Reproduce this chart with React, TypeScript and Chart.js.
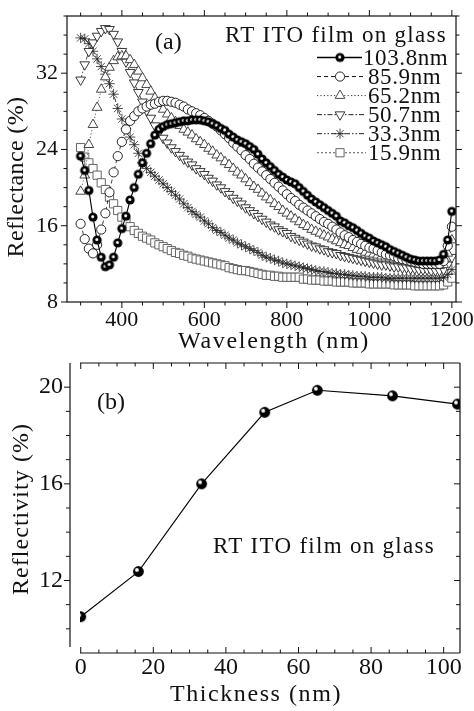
import React, { useEffect, useRef } from 'react';
import { Chart, registerables } from 'chart.js';

Chart.register(...registerables);

const SERIF = "'Liberation Serif', 'DejaVu Serif', serif";

// ---------- Panel (a) data ----------
const wavelengths = [
  300, 310, 320, 330, 340, 350, 360, 370, 380, 390,
  400, 410, 420, 430, 440, 450, 460, 470, 480, 490,
  500, 510, 520, 530, 540, 550, 560, 570, 580, 590,
  600, 610, 620, 630, 640, 650, 660, 670, 680, 690,
  700, 710, 720, 730, 740, 750, 760, 770, 780, 790,
  800, 810, 820, 830, 840, 850, 860, 870, 880, 890,
  900, 910, 920, 930, 940, 950, 960, 970, 980, 990,
  1000, 1010, 1020, 1030, 1040, 1050, 1060, 1070, 1080, 1090,
  1100, 1110, 1120, 1130, 1140, 1150, 1160, 1170, 1180, 1190,
  1200,
];

const seriesLabels = ['103.8nm', '85.9nm', '65.2nm', '50.7nm', '33.3nm', '15.9nm'];

const r103_8 = [
  23.3, 21.8, 19.7, 16.9, 14.5, 12.7, 11.7, 11.9, 12.7, 14.2,
  15.7, 17.0, 18.7, 20.0, 21.4, 22.6, 23.6, 24.6, 25.5, 26.1,
  26.4, 26.6, 26.7, 26.8, 26.9, 27.0, 27.0, 27.1, 27.1, 27.1,
  27.0, 26.9, 26.7, 26.5, 26.2, 26.0, 25.6, 25.3, 25.0, 24.8,
  24.6, 24.3, 24.0, 23.5, 23.0, 22.6, 22.2, 21.8, 21.4, 21.1,
  20.8, 20.6, 20.4, 20.0, 19.6, 19.2, 18.8, 18.5, 18.2, 17.9,
  17.6, 17.3, 17.0, 16.5, 16.3, 16.0, 15.8, 15.5, 15.2, 14.9,
  14.7, 14.4, 14.2, 14.0, 13.8, 13.5, 13.3, 13.1, 12.9, 12.7,
  12.5, 12.4, 12.3, 12.3, 12.3, 12.3, 12.3, 12.4, 13.0, 14.5,
  17.5,
];

const r85_9 = [
  16.2, 14.6, 13.6, 13.1, 14.0, 15.6, 17.3, 19.5, 21.6, 23.3,
  24.8, 26.1, 27.0, 27.5, 28.0, 28.3, 28.5, 28.7, 28.8, 29.0,
  29.1, 29.1, 29.0, 28.9, 28.7, 28.5, 28.2, 28.0, 27.8, 27.6,
  27.3, 27.0, 26.7, 26.4, 26.0, 25.6, 25.2, 24.7, 24.3, 23.9,
  23.4, 23.0, 22.5, 22.1, 21.7, 21.3, 20.9, 20.5, 20.1, 19.7,
  19.3, 18.9, 18.6, 18.2, 17.9, 17.6, 17.3, 17.0, 16.7, 16.4,
  16.2, 15.9, 15.6, 15.3, 15.0, 14.8, 14.5, 14.3, 14.1, 13.9,
  13.7, 13.6, 13.4, 13.2, 13.0, 12.9, 12.8, 12.6, 12.5, 12.4,
  12.3, 12.2, 12.1, 12.0, 12.0, 12.0, 12.0, 12.0, 12.3, 13.9,
  15.9,
];

const r65_2 = [
  19.6, 21.3, 24.5, 26.6, 28.4, 30.3, 31.6, 32.6, 33.3, 33.7,
  33.8, 33.8, 33.4, 32.9, 32.2, 31.5, 30.8, 30.1, 29.4, 28.8,
  28.2, 27.7, 27.3, 26.9, 26.5, 26.1, 25.8, 25.5, 25.1, 24.8,
  24.5, 24.1, 23.8, 23.4, 23.1, 22.7, 22.4, 22.0, 21.6, 21.3,
  20.9, 20.5, 20.1, 19.8, 19.4, 19.0, 18.7, 18.3, 18.0, 17.6,
  17.3, 17.0, 16.7, 16.4, 16.1, 15.9, 15.6, 15.4, 15.2, 15.0,
  14.8, 14.6, 14.4, 14.2, 14.0, 13.9, 13.7, 13.5, 13.4, 13.2,
  13.1, 13.0, 12.9, 12.8, 12.7, 12.6, 12.5, 12.4, 12.3, 12.2,
  12.1, 12.0, 11.9, 11.9, 11.8, 11.8, 11.8, 11.8, 11.9, 13.1,
  14.5,
];

const r50_7 = [
  31.3, 32.9, 34.3, 35.2, 35.9, 36.4, 36.7, 36.6, 36.1, 35.3,
  34.3, 33.2, 32.1, 31.0, 30.0, 29.0, 28.1, 27.3, 26.5, 25.8,
  25.2, 24.7, 24.2, 23.8, 23.4, 23.0, 22.7, 22.4, 22.0, 21.7,
  21.4, 21.0, 20.7, 20.3, 20.0, 19.6, 19.3, 18.9, 18.6, 18.3,
  17.9, 17.6, 17.3, 17.0, 16.7, 16.4, 16.1, 15.9, 15.6, 15.4,
  15.2, 14.9, 14.7, 14.5, 14.3, 14.1, 13.9, 13.8, 13.6, 13.5,
  13.3, 13.2, 13.1, 12.9, 12.8, 12.7, 12.6, 12.5, 12.4, 12.3,
  12.2, 12.1, 12.0, 11.9, 11.9, 11.8, 11.7, 11.7, 11.6, 11.6,
  11.5, 11.5, 11.4, 11.4, 11.4, 11.3, 11.3, 11.3, 11.4, 11.9,
  12.7,
];

const r33_3 = [
  35.7, 35.6, 35.1, 34.3, 33.5, 32.7, 31.9, 30.9, 29.8, 28.3,
  27.2, 26.2, 25.3, 24.5, 23.6, 22.6, 22.0, 21.6, 21.2, 20.8,
  20.4, 20.0, 19.6, 19.2, 18.8, 18.3, 17.9, 17.5, 17.2, 16.9,
  16.5, 16.2, 15.8, 15.5, 15.3, 15.0, 14.7, 14.5, 14.2, 14.0,
  13.8, 13.6, 13.4, 13.2, 12.9, 12.7, 12.6, 12.4, 12.3, 12.1,
  12.0, 11.9, 11.8, 11.7, 11.6, 11.5, 11.4, 11.3, 11.2, 11.2,
  11.1, 11.0, 11.0, 10.9, 10.9, 10.8, 10.8, 10.7, 10.7, 10.7,
  10.6, 10.6, 10.6, 10.6, 10.5, 10.5, 10.5, 10.5, 10.5, 10.5,
  10.5, 10.5, 10.5, 10.5, 10.5, 10.5, 10.5, 10.5, 10.6, 10.9,
  11.4,
];

const r15_9 = [
  24.2, 23.2, 22.6, 22.0, 21.3, 20.5, 19.8, 19.0, 18.3, 17.6,
  16.9, 16.4, 15.9, 15.5, 15.2, 14.9, 14.7, 14.5, 14.2, 14.0,
  13.8, 13.6, 13.4, 13.2, 13.1, 12.9, 12.8, 12.6, 12.5, 12.4,
  12.3, 12.2, 12.1, 12.0, 11.9, 11.8, 11.6, 11.5, 11.4, 11.3,
  11.3, 11.2, 11.1, 11.0, 10.9, 10.8, 10.8, 10.7, 10.7, 10.6,
  10.6, 10.6, 10.6, 10.6, 10.4, 10.4, 10.3, 10.3, 10.3, 10.2,
  10.2, 10.2, 10.1, 10.1, 10.1, 10.1, 10.0, 10.0, 10.0, 10.0,
  9.9, 9.9, 9.9, 9.9, 9.9, 9.9, 9.8, 9.8, 9.8, 9.8,
  9.8, 9.7, 9.7, 9.7, 9.7, 9.7, 9.7, 9.7, 9.8, 10.1,
  10.5,
];

const xTicksA = [400, 600, 800, 1000, 1200];
const yTicksA = [8, 16, 24, 32];

// ---------- Panel (b) data ----------
const thickness = [0, 15.9, 33.3, 50.7, 65.2, 85.9, 103.8];
const reflectivity = [10.5, 12.37, 16.0, 18.96, 19.87, 19.64, 19.3];
const xTicksB = [0, 20, 40, 60, 80, 100];
const yTicksB = [12, 16, 20];

const annotationText = 'RT ITO film on glass';

function makeBall(r: number, hlR: number, dx: number, dy: number) {
  const s = Math.ceil(r * 2 + 2);
  const c = document.createElement('canvas');
  c.width = s;
  c.height = s;
  const g = c.getContext('2d')!;
  const cx = s / 2;
  g.beginPath();
  g.arc(cx, cx, r, 0, Math.PI * 2);
  g.fillStyle = '#000';
  g.fill();
  g.beginPath();
  g.arc(cx + dx, cx + dy, hlR, 0, Math.PI * 2);
  g.fillStyle = '#fff';
  g.fill();
  return c;
}

function drawMarker(ctx: CanvasRenderingContext2D, st: any, x: number, y: number) {
  const style = st.pointStyle;
  if (style instanceof HTMLCanvasElement) {
    ctx.drawImage(style, x - style.width / 2, y - style.height / 2);
    return;
  }
  const r = st.radius;
  const rad = ((st.rotation || 0) * Math.PI) / 180;
  ctx.save();
  ctx.setLineDash([]);
  ctx.fillStyle = '#fff';
  ctx.strokeStyle = st.color;
  ctx.lineWidth = st.markerWidth;
  ctx.beginPath();
  if (style === 'circle') {
    ctx.arc(x, y, r, 0, Math.PI * 2);
    ctx.fill();
    ctx.stroke();
  } else if (style === 'triangle') {
    let a = rad;
    ctx.moveTo(x + Math.sin(a) * r, y - Math.cos(a) * r);
    a += (2 * Math.PI) / 3;
    ctx.lineTo(x + Math.sin(a) * r, y - Math.cos(a) * r);
    a += (2 * Math.PI) / 3;
    ctx.lineTo(x + Math.sin(a) * r, y - Math.cos(a) * r);
    ctx.closePath();
    ctx.fill();
    ctx.stroke();
  } else if (style === 'rect') {
    const h = r * Math.SQRT1_2;
    ctx.rect(x - h, y - h, 2 * h, 2 * h);
    ctx.fill();
    ctx.stroke();
  } else if (style === 'star') {
    for (let k = 0; k < 4; k++) {
      const a = rad + (k * Math.PI) / 4;
      ctx.moveTo(x - Math.cos(a) * r, y - Math.sin(a) * r);
      ctx.lineTo(x + Math.cos(a) * r, y + Math.sin(a) * r);
    }
    ctx.stroke();
  }
  ctx.restore();
}

function fitText(
  ctx: CanvasRenderingContext2D,
  text: string,
  x: number,
  y: number,
  size: number,
  width: number | null,
  align: CanvasTextAlign,
  baseline: CanvasTextBaseline,
  rotate = false,
  fixedSpacing = 0,
) {
  ctx.save();
  ctx.font = `${size}px ${SERIF}`;
  (ctx as any).letterSpacing = '0px';
  let ls = fixedSpacing;
  if (width) {
    const natural = ctx.measureText(text).width;
    ls = (width - natural) / text.length;
    ls = Math.max(-1.5, Math.min(3, ls));
  }
  (ctx as any).letterSpacing = `${ls}px`;
  ctx.fillStyle = '#111';
  ctx.textAlign = align;
  ctx.textBaseline = baseline;
  ctx.translate(x, y);
  if (rotate) ctx.rotate(-Math.PI / 2);
  ctx.fillText(text, 0, 0);
  ctx.restore();
}

function line(ctx: CanvasRenderingContext2D, x1: number, y1: number, x2: number, y2: number) {
  ctx.beginPath();
  ctx.moveTo(x1, y1);
  ctx.lineTo(x2, y2);
  ctx.stroke();
}

const whiteBg = {
  id: 'whiteBg',
  beforeDraw(chart: any) {
    const { ctx, width, height } = chart;
    ctx.save();
    ctx.fillStyle = '#fff';
    ctx.fillRect(0, 0, width, height);
    ctx.restore();
  },
};

export default function App() {
  const refA = useRef<HTMLCanvasElement | null>(null);
  const refB = useRef<HTMLCanvasElement | null>(null);

  useEffect(() => {
    const ballA = makeBall(4.6, 1.5, -0.3, -0.5);
    const ballB = makeBall(5.4, 1.9, -1.5, -1.6);

    const stylesA = [
      { pointStyle: ballA, radius: 4.6, rotation: 0, dash: [], color: '#000', lineWidth: 1.1, markerWidth: 1 },
      { pointStyle: 'circle', radius: 4.6, rotation: 0, dash: [4, 3], color: '#111', lineWidth: 0.8, markerWidth: 0.9 },
      { pointStyle: 'triangle', radius: 5.6, rotation: 0, dash: [1.2, 2.2], color: '#333', lineWidth: 0.8, markerWidth: 0.9 },
      { pointStyle: 'triangle', radius: 5.6, rotation: 180, dash: [5, 2, 1.5, 2], color: '#222', lineWidth: 0.8, markerWidth: 0.9 },
      { pointStyle: 'star', radius: 5.2, rotation: 0, dash: [5, 2, 1.5, 2, 1.5, 2], color: '#222', lineWidth: 0.9, markerWidth: 0.8 },
      { pointStyle: 'rect', radius: 5.8, rotation: 0, dash: [2, 2], color: '#555', lineWidth: 0.8, markerWidth: 0.9 },
    ];
    const seriesA = [r103_8, r85_9, r65_2, r50_7, r33_3, r15_9];

    const datasetsA = seriesA.map((s, i) => {
      const st = stylesA[i];
      return {
        label: seriesLabels[i],
        data: wavelengths.map((w, k) => ({ x: w, y: s[k] })),
        borderColor: st.color,
        borderWidth: st.lineWidth,
        borderDash: st.dash,
        pointStyle: st.pointStyle,
        pointRadius: st.radius,
        pointRotation: st.rotation,
        pointBackgroundColor: '#fff',
        pointBorderColor: st.color,
        pointBorderWidth: st.markerWidth,
        tension: 0,
        fill: false,
      };
    });

    const decorA = {
      id: 'decorA',
      afterDraw(chart: any) {
        const ctx: CanvasRenderingContext2D = chart.ctx;
        const { left, right, top, bottom } = chart.chartArea;
        const xs = chart.scales.x;
        const ys = chart.scales.y;
        ctx.save();
        ctx.strokeStyle = '#111';
        ctx.lineWidth = 1.2;
        ctx.strokeRect(left, top, right - left, bottom - top);
        ctx.lineWidth = 1;
        for (let v = 300; v <= 1200; v += 50) {
          const px = xs.getPixelForValue(v);
          const len = xTicksA.includes(v) ? 6 : 3.5;
          line(ctx, px, bottom, px, bottom + len);
          line(ctx, px, top, px, top - len);
        }
        for (let v = 8; v <= 38; v += 2) {
          const py = ys.getPixelForValue(v);
          const len = yTicksA.includes(v) ? 6 : 3.5;
          line(ctx, left, py, left - len, py);
          line(ctx, right, py, right + len, py);
        }
        ctx.restore();

        // axis titles
        fitText(ctx, 'Wavelength (nm)', 274, 342, 24, 192, 'center', 'middle');
        fitText(ctx, 'Reflectance (%)', 16.5, 177, 24, 161, 'center', 'middle', true);
        fitText(ctx, '(a)', 155, 43, 24, null, 'left', 'middle');

        // legend
        fitText(ctx, annotationText, 447, 41.5, 23, 222, 'right', 'alphabetic');
        stylesA.forEach((st, i) => {
          const y = 57.5 + i * 19.05;
          ctx.save();
          ctx.strokeStyle = st.color;
          ctx.lineWidth = i === 0 ? 1.3 : 1;
          ctx.setLineDash(st.dash);
          line(ctx, 317, y, i === 0 ? 362 : 366, y);
          ctx.restore();
          drawMarker(ctx, st, 340, y);
          const lbl = seriesLabels[i];
          fitText(ctx, lbl, 363 + (7 - lbl.length) * 5, y + 7.5, 23, null, 'left', 'alphabetic', false, 0.6);
        });
      },
    };

    const commonScale = {
      grid: { display: false, drawTicks: false },
      border: { display: false },
    };

    const chartA = new Chart(refA.current as HTMLCanvasElement, {
      type: 'line',
      data: { datasets: datasetsA as any },
      options: {
        animation: false,
        responsive: false,
        events: [],
        layout: { padding: { left: 0, top: 16, right: 18, bottom: 0 } },
        plugins: { legend: { display: false }, tooltip: { enabled: false } },
        scales: {
          x: {
            type: 'linear',
            min: 267,
            max: 1210,
            ...commonScale,
            afterBuildTicks: (s: any) => {
              s.ticks = xTicksA.map((v) => ({ value: v }));
            },
            afterFit: (s: any) => {
              s.height = 53;
              s.paddingLeft = 0;
              s.paddingRight = 0;
            },
            ticks: {
              padding: 5,
              color: '#111',
              font: { family: SERIF, size: 22 },
              maxRotation: 0,
              autoSkip: false,
              callback: (v: any) => String(v),
            },
          },
          y: {
            type: 'linear',
            min: 8,
            max: 38,
            ...commonScale,
            afterBuildTicks: (s: any) => {
              s.ticks = yTicksA.map((v) => ({ value: v }));
            },
            afterFit: (s: any) => {
              s.width = 67;
              s.paddingTop = 0;
              s.paddingBottom = 0;
            },
            ticks: {
              padding: 9,
              color: '#111',
              font: { family: SERIF, size: 22 },
              autoSkip: false,
              callback: (v: any) => String(v),
            },
          },
        },
      } as any,
      plugins: [whiteBg, decorA],
    });

    const decorB = {
      id: 'decorB',
      afterDraw(chart: any) {
        const ctx: CanvasRenderingContext2D = chart.ctx;
        const { left, right, top, bottom } = chart.chartArea;
        const xs = chart.scales.x;
        const ys = chart.scales.y;
        const axisX = left - 10;
        ctx.save();
        ctx.strokeStyle = '#111';
        ctx.lineWidth = 1.2;
        line(ctx, left, top, right, top);
        line(ctx, right, top, right, bottom);
        line(ctx, left, bottom, right, bottom);
        line(ctx, axisX, top, axisX, bottom - 6);
        ctx.lineWidth = 1;
        for (let v = 0; v <= 100; v += 5) {
          const px = xs.getPixelForValue(v);
          const len = xTicksB.includes(v) ? 6 : 3.5;
          line(ctx, px, bottom, px, bottom - len);
          line(ctx, px, top, px, top + len);
        }
        for (let v = 10; v <= 20; v += 1) {
          const py = ys.getPixelForValue(v);
          const len = yTicksB.includes(v) ? 6 : 4;
          line(ctx, axisX, py, axisX - len, py);
          line(ctx, right, py, right - len, py);
        }
        ctx.restore();

        fitText(ctx, 'Thickness (nm)', 256, 340, 24, 172, 'center', 'middle');
        fitText(ctx, 'Reflectivity (%)', 22, 154, 24, 172, 'center', 'middle', true);
        fitText(ctx, '(b)', 97, 48, 24, null, 'left', 'middle');
        fitText(ctx, annotationText, 213, 198, 23, 222, 'left', 'alphabetic');
      },
    };

    const chartB = new Chart(refB.current as HTMLCanvasElement, {
      type: 'line',
      data: {
        datasets: [
          {
            label: 'Reflectivity',
            data: thickness.map((t, k) => ({ x: t, y: reflectivity[k] })),
            borderColor: '#000',
            borderWidth: 1.1,
            pointStyle: ballB,
            pointRadius: 5.4,
            tension: 0,
            fill: false,
          } as any,
        ],
      },
      options: {
        animation: false,
        responsive: false,
        events: [],
        layout: { padding: { left: 0, top: 8, right: 14, bottom: 0 } },
        plugins: { legend: { display: false }, tooltip: { enabled: false } },
        scales: {
          x: {
            type: 'linear',
            min: -0.2,
            max: 104.5,
            ...commonScale,
            afterBuildTicks: (s: any) => {
              s.ticks = xTicksB.map((v) => ({ value: v }));
            },
            afterFit: (s: any) => {
              s.height = 58;
              s.paddingLeft = 0;
              s.paddingRight = 0;
            },
            ticks: {
              padding: 0,
              color: '#111',
              font: { family: SERIF, size: 24 },
              maxRotation: 0,
              autoSkip: false,
              callback: (v: any) => String(v),
            },
          },
          y: {
            type: 'linear',
            min: 9,
            max: 21,
            ...commonScale,
            afterBuildTicks: (s: any) => {
              s.ticks = yTicksB.map((v) => ({ value: v }));
            },
            afterFit: (s: any) => {
              s.width = 80;
              s.paddingTop = 0;
              s.paddingBottom = 0;
            },
            ticks: {
              padding: 17,
              color: '#111',
              font: { family: SERIF, size: 24 },
              autoSkip: false,
              callback: (v: any) => String(v),
            },
          },
        },
      } as any,
      plugins: [whiteBg, decorB],
    });

    return () => {
      chartA.destroy();
      chartB.destroy();
    };
  }, []);

  return (
    <div style={{ position: 'absolute', left: 0, top: 0, width: 474, height: 711, background: '#fff', overflow: 'hidden' }}>
      <canvas
        ref={refA}
        width={474}
        height={355}
        style={{ position: 'absolute', left: 0, top: 0, width: 474, height: 355 }}
      />
      <canvas
        ref={refB}
        width={474}
        height={356}
        style={{ position: 'absolute', left: 0, top: 355, width: 474, height: 356 }}
      />
    </div>
  );
}
